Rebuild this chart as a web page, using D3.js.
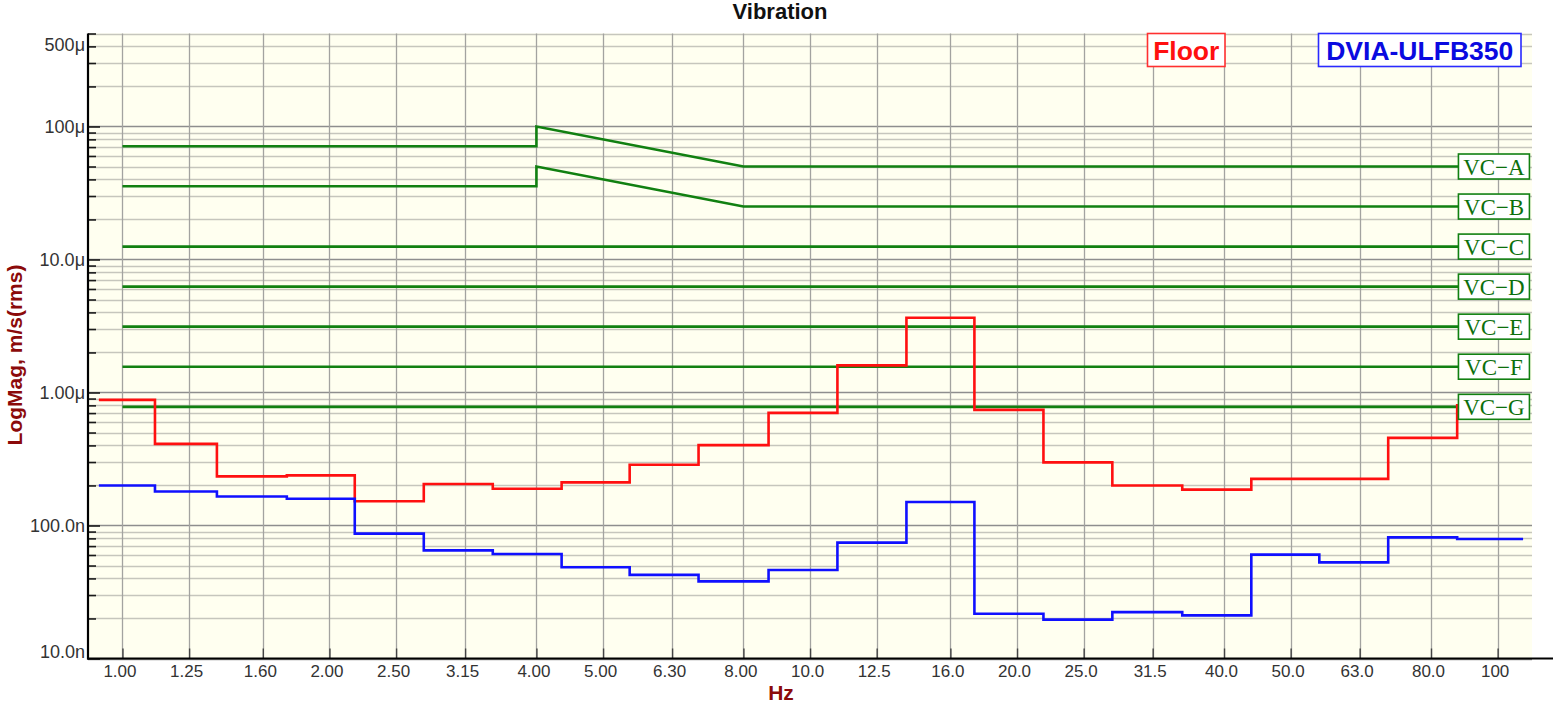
<!DOCTYPE html>
<html><head><meta charset="utf-8">
<script src="https://cdn.jsdelivr.net/npm/d3@7/dist/d3.min.js"></script>
<style>body{margin:0;background:#fff;} svg{display:block;}</style>
</head><body>
<svg id="chart" width="1560" height="705"></svg>
<script>
// ---------- data ----------
const bandLabels  = ["1.00","1.25","1.60","2.00","2.50","3.15","4.00","5.00","6.30","8.00","10.0","12.5","16.0","20.0","25.0","31.5","40.0","50.0","63.0","80.0","100"];
const bandCenters = [1,1.25,1.6,2,2.5,3.15,4,5,6.3,8,10,12.5,16,20,25,31.5,40,50,63,80,100];
// band edge frequencies (Hz) as drawn in the reference
const bandEdges   = [0.924,1.115,1.372,1.734,2.177,2.743,3.456,4.352,5.466,6.884,8.703,10.96,13.81,17.34,21.85,27.52,34.78,43.83,55.04,69.32,87.33,108.9];
// Floor, m/s rms (per band)
const floorValues = [0.88e-6,0.411e-6,0.234e-6,0.238e-6,0.152e-6,0.205e-6,0.189e-6,0.211e-6,0.286e-6,0.402e-6,0.703e-6,1.60e-6,3.65e-6,0.74e-6,0.298e-6,0.200e-6,0.186e-6,0.224e-6,0.224e-6,0.456e-6,0.80e-6];
// DVIA-ULFB350, m/s rms (per band)
const dviaValues  = [200e-9,180e-9,165e-9,159e-9,86.8e-9,65.0e-9,61.1e-9,48.5e-9,42.5e-9,38.0e-9,46.3e-9,74.3e-9,150e-9,21.7e-9,19.6e-9,22.3e-9,21.1e-9,60.4e-9,52.8e-9,81.4e-9,79.2e-9];
// VC criteria curves
const vcNames = ["VC\u2212A","VC\u2212B","VC\u2212C","VC\u2212D","VC\u2212E","VC\u2212F","VC\u2212G"];
const vcAHz  = [1,4,4,8,100];
const vcAVal = [71e-6,71e-6,100e-6,50e-6,50e-6];
const vcBHz  = [1,4,4,8,100];
const vcBVal = [35.5e-6,35.5e-6,50e-6,25e-6,25e-6];
const vcFlatHz = [1,100];
const vcCVal = [12.5e-6,12.5e-6];
const vcDVal = [6.25e-6,6.25e-6];
const vcEVal = [3.125e-6,3.125e-6];
const vcFVal = [1.5625e-6,1.5625e-6];
const vcGVal = [0.78e-6,0.78e-6];
const vcLabelHz = 87.7;
// y ticks
const yTickValues = [5e-4,1e-4,1e-5,1e-6,1e-7,1e-8];
const yTickLabels = ["500\u03bc","100\u03bc","10.0\u03bc","1.00\u03bc","100.0n","10.0n"];
const xDomain = [0.891,112.2];
const yDomain = [1e-8,5e-4];
const legendNames = ["Floor","DVIA-ULFB350"];

// ---------- layout ----------
const L=88, R=1532, T=33.5, B=658.5;
const svg = d3.select("#chart");
const x = d3.scaleLog().domain(xDomain).range([L,R]);
const y = d3.scaleLog().domain(yDomain).range([B,T]);
const font = "'Liberation Sans', Arial, Helvetica, sans-serif";

svg.append("defs").append("clipPath").attr("id","clip")
  .append("rect").attr("x",L).attr("y",T).attr("width",R-L).attr("height",B-T);

svg.append("rect").attr("x",L).attr("y",T).attr("width",R-L).attr("height",B-T).attr("fill","#fffff0");

// horizontal gridlines
const minor=[], major=[];
for(let d=-8; d<=-4; d++){
  for(let k=1;k<=9;k++){
    const v=k*Math.pow(10,d);
    if(v<yDomain[0]*0.999||v>yDomain[1]*1.001) continue;
    (k===1?major:minor).push(v);
  }
}
const grid = svg.append("g");
grid.selectAll(".hmin").data(minor).join("line")
  .attr("x1",L).attr("x2",R).attr("y1",d=>Math.round(y(d))+0.5).attr("y2",d=>Math.round(y(d))+0.5)
  .attr("stroke","#c6c6bd").attr("stroke-width",1.3);
grid.selectAll(".hmaj").data(major).join("line")
  .attr("x1",L).attr("x2",R).attr("y1",d=>Math.round(y(d))+0.5).attr("y2",d=>Math.round(y(d))+0.5)
  .attr("stroke","#8e8e8e").attr("stroke-width",1.3);
// vertical gridlines
grid.selectAll(".vg").data(bandCenters).join("line")
  .attr("x1",d=>Math.round(x(d))+0.5).attr("x2",d=>Math.round(x(d))+0.5).attr("y1",T).attr("y2",B)
  .attr("stroke","#a3a3a0").attr("stroke-width",1.3);

// ---------- series ----------
const plot = svg.append("g").attr("clip-path","url(#clip)");
function stepPts(vals){
  const pts=[];
  vals.forEach((v,i)=>{pts.push([bandEdges[i],v]);pts.push([bandEdges[i+1],v]);});
  return pts;
}
const line = d3.line().x(d=>x(d[0])).y(d=>y(d[1]));

const vcSeries = [
  [vcAHz,vcAVal],[vcBHz,vcBVal],[vcFlatHz,vcCVal],[vcFlatHz,vcDVal],
  [vcFlatHz,vcEVal],[vcFlatHz,vcFVal],[vcFlatHz,vcGVal]
];
const green="#118011";
vcSeries.forEach(([hz,val])=>{
  plot.append("path").datum(hz.map((h,i)=>[h,val[i]])).attr("d",line)
    .attr("fill","none").attr("stroke",green).attr("stroke-width",2.6).attr("stroke-linejoin","miter");
});

plot.append("path").datum(stepPts(floorValues)).attr("d",line)
  .attr("fill","none").attr("stroke","#ff1010").attr("stroke-width",2.6);
plot.append("path").datum(stepPts(dviaValues)).attr("d",line)
  .attr("fill","none").attr("stroke","#1010ff").attr("stroke-width",2.6);

// VC labels
vcSeries.forEach(([hz,val],i)=>{
  const v=val[val.length-1];
  const bx=x(vcLabelHz), by=y(v);
  const g=svg.append("g");
  g.append("rect").attr("x",bx).attr("y",by-12.5).attr("width",71).attr("height",25)
    .attr("fill","#ffffff").attr("stroke",green).attr("stroke-width",1.6);
  g.append("text").attr("x",bx+35.5).attr("y",by+8).attr("text-anchor","middle")
    .attr("font-family","'Liberation Serif','Times New Roman',serif").attr("font-size",23)
    .attr("fill","#0c700c").text(vcNames[i]);
});

// ---------- axes ----------
const yAxis = d3.axisLeft(y).tickValues(yTickValues).tickSize(-12).tickPadding(3)
  .tickFormat((d,i)=>yTickLabels[i]);
const ya = svg.append("g").attr("transform",`translate(${L},0)`).call(yAxis);
ya.select(".domain").remove();
ya.selectAll("line").attr("stroke","#1a1a1a").attr("stroke-width",1.6);
ya.selectAll("text").attr("font-family",font).attr("font-size",18).attr("fill","#333");
ya.selectAll(".tick").filter(d=>d===yDomain[1]).select("text").attr("dy","0.95em");
ya.selectAll(".tick").filter(d=>d===yDomain[0]).select("text").attr("dy","-0.05em");
ya.selectAll(".tick").filter(d=>d===yDomain[1]).select("line").remove();

const yMinor = d3.axisLeft(y).tickValues(minor).tickSize(-8).tickFormat("");
const ym = svg.append("g").attr("transform",`translate(${L},0)`).call(yMinor);
ym.select(".domain").remove();
ym.selectAll("line").attr("stroke","#1a1a1a").attr("stroke-width",1.6);

const xAxis = d3.axisBottom(x).tickValues(bandCenters).tickSize(-10).tickPadding(6)
  .tickFormat((d,i)=>bandLabels[i]);
const xa = svg.append("g").attr("transform",`translate(0,${B})`).call(xAxis);
xa.select(".domain").remove();
xa.selectAll("line").attr("stroke","#444").attr("stroke-width",1.4);
xa.selectAll("text").attr("font-family",font).attr("font-size",17).attr("fill","#333").attr("dx","-3");

// axis frame lines
svg.append("line").attr("x1",L).attr("x2",L).attr("y1",T).attr("y2",B+1)
  .attr("stroke","#000").attr("stroke-width",2.2);
svg.append("line").attr("x1",L-1).attr("x2",1553).attr("y1",B).attr("y2",B)
  .attr("stroke","#000").attr("stroke-width",2.2);

// ---------- titles ----------
svg.append("text").attr("x",780).attr("y",18.5).attr("text-anchor","middle")
  .attr("font-family",font).attr("font-weight","bold").attr("font-size",22).attr("fill","#111")
  .text("Vibration");
svg.append("text").attr("x",781).attr("y",700).attr("text-anchor","middle")
  .attr("font-family",font).attr("font-weight","bold").attr("font-size",21).attr("fill","#8b0a0a")
  .text("Hz");
svg.append("text").attr("transform","translate(22,355) rotate(-90)").attr("text-anchor","middle")
  .attr("font-family",font).attr("font-weight","bold").attr("font-size",21).attr("fill","#8b0a0a")
  .text("LogMag, m/s(rms)");

// ---------- legend ----------
const legendBoxes = [
  {x:1147.5,w:77.5,color:"#ff1010",stroke:"#ff3030"},
  {x:1318.5,w:202.5,color:"#0a0ae0",stroke:"#2a2aff"}
];
legendBoxes.forEach((b,i)=>{
  svg.append("rect").attr("x",b.x).attr("y",33.5).attr("width",b.w).attr("height",33)
    .attr("fill","#fff").attr("stroke",b.stroke).attr("stroke-width",1.6);
  svg.append("text").attr("x",b.x+b.w/2).attr("y",59.5).attr("text-anchor","middle")
    .attr("font-family",font).attr("font-weight","bold").attr("font-size",26.5).attr("fill",b.color)
    .text(legendNames[i]);
});
</script>
</body></html>
